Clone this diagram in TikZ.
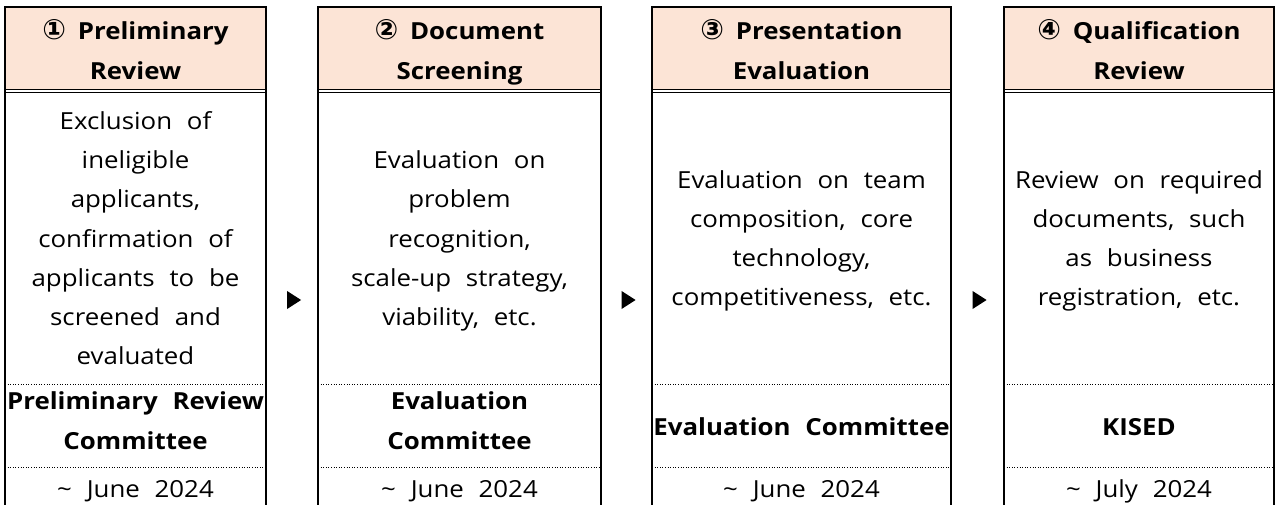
\documentclass[tikz,border=0pt]{standalone}
\usepackage{fontspec}
\setmainfont{Open Sans}[WordSpace=2.2,FakeStretch=1.1]
\newfontfamily\circfont{DejaVu Sans}
\usetikzlibrary{shapes.geometric}
\definecolor{headfill}{RGB}{252,228,214}
\begin{document}
\begin{tikzpicture}[
       x=1pt,y=-1pt,
       cell/.style={
         align=center,
         inner sep=0pt,
         execute at begin node=\strut,
         execute at end node=\strut,
         font=\fontsize{23.5}{39.3}\selectfont
       },
       headcell/.style={
         cell,
         font=\fontsize{23.5}{40}\selectfont\bfseries
       },
       rule/.style={line width=1.2pt},
       dotrule/.style={line width=0.9pt, dash pattern=on 1pt off 1.6pt},
       marker/.style={
         isosceles triangle,
         isosceles triangle stretches,
         fill=black,
         inner sep=0pt,
         minimum width=18pt,
         minimum height=14pt
       }
     ]

       \useasboundingbox (0,0) rectangle (1283,505);

       % header fills
       \fill[headfill] (5,7) rectangle (266,90);
       \fill[headfill] (318,7) rectangle (601,90);
       \fill[headfill] (652,7) rectangle (951,90);
       \fill[headfill] (1004,7) rectangle (1274,90);

       % column frames
       \draw[rule] (5,505) -- (5,7) -- (266,7) -- (266,505);
       \draw[rule] (318,505) -- (318,7) -- (601,7) -- (601,505);
       \draw[rule] (652,505) -- (652,7) -- (951,7) -- (951,505);
       \draw[rule] (1004,505) -- (1004,7) -- (1274,7) -- (1274,505);

       % double rule under headers, dotted rules below
       \foreach \a/\b in {5/266, 318/601, 652/951, 1004/1274} {
         \draw[line width=1pt] (\a,89.5) -- (\b,89.5);
         \draw[line width=1pt] (\a,92.5) -- (\b,92.5);
         \draw[dotrule] (\a,384) -- (\b,384);
         \draw[dotrule] (\a,467) -- (\b,467);
       }

       \node (h1) at (135.5,55) [headcell]{{\circfont\fontsize{28}{40}\selectfont ①}\hspace{0.5em}Preliminary\\Review};
       \node (h2) at (459.5,55) [headcell]{{\circfont\fontsize{28}{40}\selectfont ②}\hspace{0.5em}Document\\Screening};
       \node (h3) at (801.5,55) [headcell]{{\circfont\fontsize{28}{40}\selectfont ③}\hspace{0.5em}Presentation\\Evaluation};
       \node (h4) at (1139,55) [headcell]{{\circfont\fontsize{28}{40}\selectfont ④}\hspace{0.5em}Qualification\\Review};

       \node (b1) at (135.5,244) [cell]{Exclusion of\\ineligible\\applicants,\\confirmation of\\applicants to be\\screened and\\evaluated};
       \node (b2) at (459.5,244) [cell]{Evaluation on\\problem\\recognition,\\scale-up strategy,\\viability, etc.};
       \node (b3) at (801.5,244) [cell]{Evaluation on team\\composition, core\\technology,\\competitiveness, etc.};
       \node (b4) at (1139,244) [cell]{Review on required\\documents, such\\as business\\registration, etc.};

       \node (c1) at (135.5,427) [headcell]{Preliminary Review\\Committee};
       \node (c2) at (459.5,427) [headcell]{Evaluation\\Committee};
       \node (c3) at (801.5,427) [headcell]{Evaluation Committee};
       \node (c4) at (1139,427) [headcell]{KISED};

       \node (d1) at (135.5,490) [cell]{\textasciitilde\ June 2024};
       \node (d2) at (459.5,490) [cell]{\textasciitilde\ June 2024};
       \node (d3) at (801.5,490) [cell]{\textasciitilde\ June 2024};
       \node (d4) at (1139,490) [cell]{\textasciitilde\ July 2024};

       \node (m1) at (292,300) [marker]{};
       \node (m2) at (626.5,300) [marker]{};
       \node (m3) at (977.5,300) [marker]{};

\end{tikzpicture}
\end{document}
